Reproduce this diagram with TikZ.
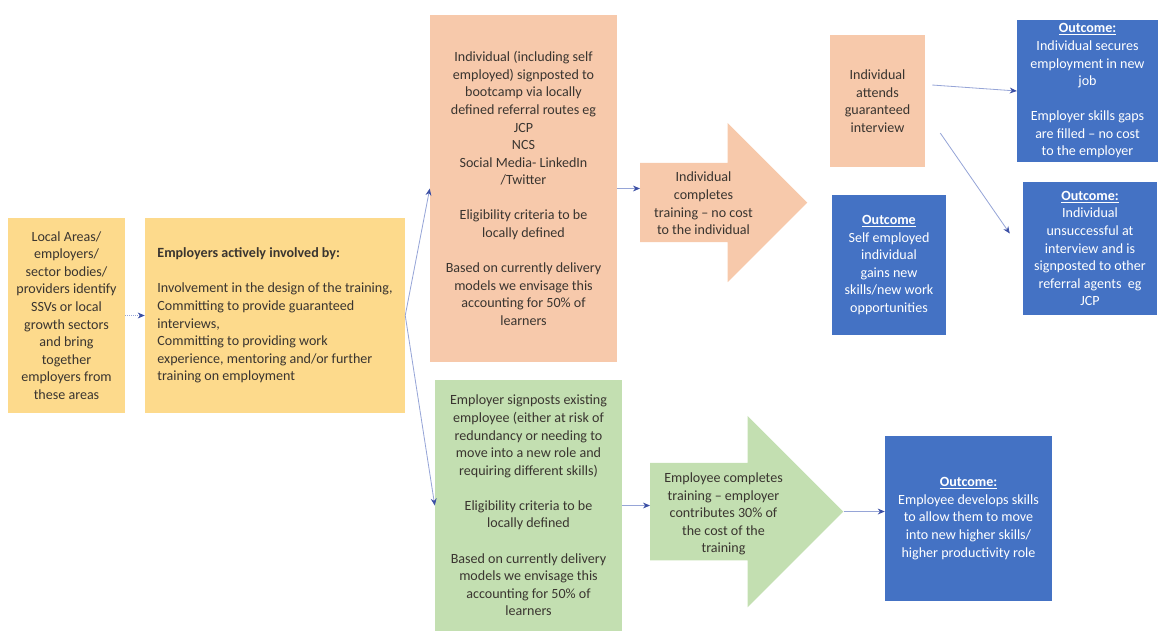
\documentclass[tikz,border=0pt]{standalone}
\usepackage{fontspec}
\setmainfont{Carlito}
\usepackage{tikz}
\usetikzlibrary{calc, arrows.meta, positioning, shapes.arrows}
\definecolor{ylw}{HTML}{FDDA8C}
\definecolor{peach}{HTML}{F7C9AB}
\definecolor{sage}{HTML}{C3DFB1}
\definecolor{outblue}{HTML}{4472C4}
\definecolor{ink}{HTML}{3A3530}
\definecolor{linkline}{RGB}{150,165,215}
\definecolor{linktip}{RGB}{60,80,165}

\begin{document}
\begin{tikzpicture}[x=0.03cm, y=-0.03cm,
    box/.style={inner sep=3pt, align=center, text=ink,
                font=\fontsize{12}{15}\selectfont},
    outcome/.style={box, fill=outblue, text=white},
    flow/.style={single arrow, inner xsep=0pt, anchor=tail,
                 minimum width=0pt},
    lbl/.style={align=center, text=ink, font=\fontsize{12}{15}\selectfont},
    link/.style={draw=linkline, line width=0.7pt,
                 -{Stealth[length=6pt, width=5pt, color=linktip]}}
  ]
    \useasboundingbox (0,0) rectangle (1158,631);

    % Setting up
    \node[box, fill=ylw, minimum width=3.51cm, minimum height=5.85cm] (locals) at (66.5,315.5)
      {Local Areas/\\employers/\\sector bodies/\\providers identify\\SSVs or local\\growth sectors\\and bring\\together\\employers from\\these areas};
    \node[box, fill=ylw, align=left, minimum width=7.8cm, minimum height=5.85cm] (employers) at (275,315.5)
      {\textbf{Employers actively involved by:}\\[15pt]Involvement in the design of the training,\\Committing to provide guaranteed\\interviews,\\Committing to providing work\\experience, mentoring and/or further\\training on employment};

    % Individual route
    \node[box, fill=peach, minimum width=5.61cm, minimum height=10.41cm] (indiv) at (523.5,188.5)
      {Individual (including self\\employed) signposted to\\bootcamp via locally\\defined referral routes eg\\JCP\\NCS\\Social Media- LinkedIn\\/Twitter\\[15pt]Eligibility criteria to be\\locally defined\\[15pt]Based on currently delivery\\models we envisage this\\accounting for 50\% of\\learners};
    \node[flow, fill=peach, minimum height=5.01cm, inner ysep=1.185cm,
          single arrow head extend=1.2cm] (train) at (640,202.5) {};
    \node[lbl] (train-txt) at (703.5,203.5) {Individual\\completes\\training -- no cost\\to the individual};
    \node[box, fill=peach, minimum width=2.85cm, minimum height=3.96cm] (interview) at (877.5,101)
      {Individual\\attends\\guaranteed\\interview};
    \node[outcome, minimum width=4.23cm, minimum height=4.26cm] (secured) at (1087.5,91)
      {\underline{\textbf{Outcome:}}\\Individual secures\\employment in new\\job\\[15pt]Employer skills gaps\\are filled -- no cost\\to the employer};
    \node[outcome, minimum width=3.42cm, minimum height=4.2cm] (selfemp) at (889,265)
      {\underline{\textbf{Outcome}}\\Self employed\\individual\\gains new\\skills/new work\\opportunities};
    \node[outcome, minimum width=4.02cm, minimum height=3.99cm] (failed) at (1090,248.5)
      {\underline{\textbf{Outcome:}}\\Individual\\unsuccessful at\\interview and is\\signposted to other\\referral agents~ eg\\JCP};

    % Employee route
    \node[box, fill=sage, minimum width=5.61cm, minimum height=7.53cm] (employee) at (528.5,505.5)
      {Employer signposts existing\\employee (either at risk of\\redundancy or needing to\\move into a new role and\\requiring different skills)\\[15pt]Eligibility criteria to be\\locally defined\\[15pt]Based on currently delivery\\models we envisage this\\accounting for 50\% of\\learners};
    \node[flow, fill=sage, minimum height=5.79cm, inner ysep=1.455cm,
          single arrow head extend=1.41cm] (retrain) at (650,511.5) {};
    \node[lbl] (retrain-txt) at (723.5,514) {Employee completes\\training -- employer\\contributes 30\% of\\the cost of the\\training};
    \node[outcome, minimum width=5.01cm, minimum height=4.95cm] (upskill) at (968.5,518.5)
      {\underline{\textbf{Outcome:}}\\Employee develops skills\\to allow them to move\\into new higher skills/\\higher productivity role};

    % Connectors
    \draw[link, densely dotted] (locals) -- (employers);
    \draw[link] (employers.east) -- (indiv.west);
    \draw[link] (employers.east) -- (employee.west);
    \draw[link] (indiv.east) -- (indiv.east -| train.tail);
    \draw[link] ($(interview.east)+(7,-16)$) -- (secured.west);
    \draw[link] ($(interview.east)+(15,32)$) -- ($(failed.west)+(-13,-15)$);
    \draw[link] (employee.east) -- (employee.east -| retrain.tail);
    \draw[link] (retrain.tip) -- (retrain.tip -| upskill.west);
  \end{tikzpicture}
\end{document}
